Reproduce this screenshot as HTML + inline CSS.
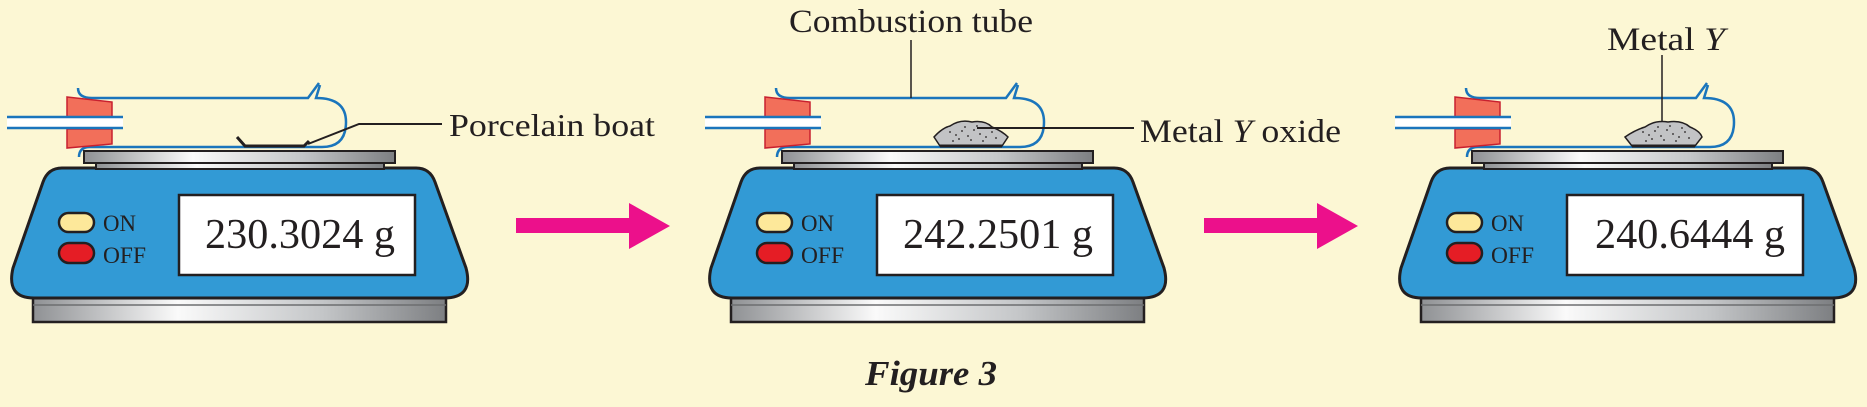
<!DOCTYPE html>
<html><head><meta charset="utf-8"><style>
html,body{margin:0;padding:0;background:#fcf7d4;}
svg{display:block;}
text{font-family:"Liberation Serif",serif;fill:#231f20;}
</style></head><body>
<svg width="1867" height="407" viewBox="0 0 1867 407" xmlns="http://www.w3.org/2000/svg">
<defs>
<linearGradient id="metal" x1="0" x2="1" y1="0" y2="0">
<stop offset="0" stop-color="#8f9194"/><stop offset="0.35" stop-color="#fafafa"/><stop offset="0.7" stop-color="#c4c6c8"/><stop offset="1" stop-color="#7d7f82"/>
</linearGradient>
<g id="scale">
<rect x="33" y="296" width="413" height="26" fill="url(#metal)" stroke="#231f20" stroke-width="2.5"/>
<line x1="33" y1="305" x2="446" y2="305" stroke="#6d6e70" stroke-width="1.5"/>
<path d="M62,168 L416,168 Q430,168 435,182 L466,268 Q474,298 444,298 L34,298 Q6,298 13,268 L43,182 Q48,168 62,168 Z" fill="#329ad5" stroke="#231f20" stroke-width="3"/>
<rect x="96" y="160" width="288" height="9" fill="url(#metal)" stroke="#231f20" stroke-width="2"/>
<rect x="84" y="151" width="311" height="12" fill="url(#metal)" stroke="#231f20" stroke-width="2"/>
<rect x="179" y="195" width="236" height="80" fill="#fff" stroke="#231f20" stroke-width="2.5"/>
<rect x="59" y="213" width="35" height="19" rx="9.5" fill="#fde89a" stroke="#231f20" stroke-width="2.5"/>
<rect x="59" y="243" width="35" height="20" rx="10" fill="#e51d25" stroke="#231f20" stroke-width="2.5"/>
<text x="103" y="231" font-size="23" textLength="33" lengthAdjust="spacingAndGlyphs">ON</text>
<text x="103" y="263" font-size="23" textLength="43" lengthAdjust="spacingAndGlyphs">OFF</text>
<path d="M78,88 Q78,98 92,98 L308,98 L319,83 M320,85 L316,98 Q346,98 346,122 Q346,147 322,147 L90,147 Q79,147 79,157" fill="none" stroke="#1a75bc" stroke-width="2.5"/>
<polygon points="67,97 112,102 112,117 67,117" fill="#f26f5a" stroke="#c8202f" stroke-width="1.5"/>
<polygon points="67,129 112,129 112,144 67,148" fill="#f26f5a" stroke="#c8202f" stroke-width="1.5"/>
<rect x="7" y="117" width="116" height="11" fill="#fff"/>
<line x1="7" y1="117" x2="123" y2="117" stroke="#1a75bc" stroke-width="2.5"/>
<line x1="7" y1="128" x2="123" y2="128" stroke="#1a75bc" stroke-width="2.5"/>
</g>
<g id="dots" fill="#231f20">
<circle cx="8" cy="6" r="0.9"/><circle cx="14" cy="9" r="0.9"/><circle cx="20" cy="5" r="0.9"/><circle cx="26" cy="10" r="0.9"/><circle cx="32" cy="4" r="0.9"/><circle cx="38" cy="8" r="0.9"/><circle cx="44" cy="11" r="0.9"/><circle cx="50" cy="6" r="0.9"/><circle cx="17" cy="13" r="0.9"/><circle cx="29" cy="14" r="0.9"/><circle cx="41" cy="15" r="0.9"/><circle cx="54" cy="12" r="0.9"/><circle cx="23" cy="1" r="0.9"/><circle cx="35" cy="0" r="0.9"/><circle cx="11" cy="15" r="0.9"/><circle cx="47" cy="2" r="0.9"/>
</g>
</defs>
<!-- scale 1 -->
<use href="#scale"/>
<text x="205" y="248" font-size="42" textLength="190" lengthAdjust="spacingAndGlyphs">230.3024 g</text>
<polyline points="237,137 245,146 304,146 309,141" fill="none" stroke="#231f20" stroke-width="3"/>
<polyline points="442,124 359,124 308,144" fill="none" stroke="#231f20" stroke-width="2"/>
<text x="449" y="136" font-size="32" textLength="206" lengthAdjust="spacingAndGlyphs">Porcelain boat</text>
<polygon points="516,218 629,218 629,203 670,226 629,249 629,233 516,233" fill="#ec108b"/>
<!-- scale 2 -->
<g transform="translate(698,0)"><use href="#scale"/></g>
<text x="903" y="248" font-size="42" textLength="190" lengthAdjust="spacingAndGlyphs">242.2501 g</text>
<path d="M934,137 Q942,128 950,126 Q960,119 972,122 Q985,120 992,127 Q1002,131 1008,137 L1002,146 L940,146 Z" fill="#c2c3c5" stroke="#231f20" stroke-width="1.5"/>
<g transform="translate(942,126)"><use href="#dots"/></g>
<line x1="940" y1="146" x2="1002" y2="146" stroke="#231f20" stroke-width="3"/>
<line x1="911" y1="40" x2="911" y2="98" stroke="#231f20" stroke-width="1.5"/>
<text x="789" y="32" font-size="33" textLength="244" lengthAdjust="spacingAndGlyphs">Combustion tube</text>
<line x1="977" y1="128" x2="1134" y2="128" stroke="#231f20" stroke-width="2"/>
<text x="1140" y="142" font-size="33" textLength="201" lengthAdjust="spacingAndGlyphs">Metal <tspan font-style="italic">Y</tspan> oxide</text>
<polygon points="1204,218 1317,218 1317,203 1358,226 1317,249 1317,233 1204,233" fill="#ec108b"/>
<!-- scale 3 -->
<g transform="translate(1388,0)"><use href="#scale"/></g>
<text x="1595" y="248" font-size="42" textLength="190" lengthAdjust="spacingAndGlyphs">240.6444 g</text>
<path d="M1625,137 Q1635,130 1645,127 Q1655,120 1668,122 Q1682,120 1690,127 Q1700,131 1702,137 L1695,146 L1632,146 Z" fill="#c2c3c5" stroke="#231f20" stroke-width="1.5"/>
<g transform="translate(1635,126)"><use href="#dots"/></g>
<line x1="1632" y1="146" x2="1695" y2="146" stroke="#231f20" stroke-width="3"/>
<line x1="1662" y1="55" x2="1662" y2="122" stroke="#231f20" stroke-width="1.5"/>
<text x="1607" y="50" font-size="33" textLength="118" lengthAdjust="spacingAndGlyphs">Metal <tspan font-style="italic">Y</tspan></text>
<text x="865" y="385" font-size="35" font-weight="bold" font-style="italic" textLength="132" lengthAdjust="spacingAndGlyphs">Figure 3</text>
</svg>
</body></html>
